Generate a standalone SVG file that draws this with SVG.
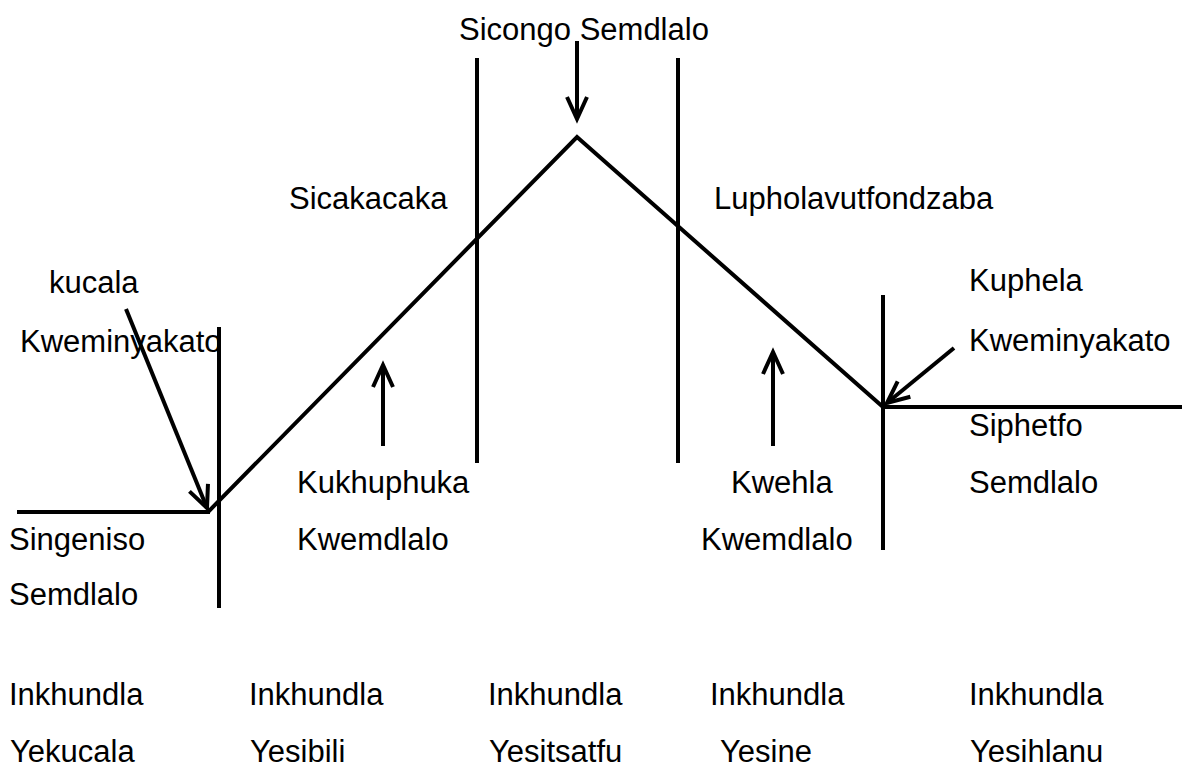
<svg xmlns="http://www.w3.org/2000/svg" width="1182" height="767" viewBox="0 0 1182 767">
  <style>
    text { font-family: "Liberation Sans", Arial, sans-serif; font-size: 31px; fill: #000; }
    .ln { stroke: #000; stroke-width: 4; fill: none; stroke-linecap: butt; stroke-linejoin: miter; }
    .arr { stroke: #000; stroke-width: 4; fill: none; marker-end: url(#head); }
  </style>
  <defs>
    <marker id="head" markerUnits="userSpaceOnUse" markerWidth="40" markerHeight="40" refX="0" refY="0" viewBox="-30 -20 40 40" orient="auto" overflow="visible">
      <path d="M -22 -10 L 0 0 L -22 10" fill="none" stroke="#000" stroke-width="4" stroke-linejoin="miter"/>
    </marker>
  </defs>
  <rect width="1182" height="767" fill="#fff"/>

  <g id="connectors">
    <line class="ln" x1="17" y1="512" x2="210" y2="512"/>
    <line class="ln" x1="219" y1="327" x2="219" y2="608"/>
    <polyline class="ln" points="208,512 577,137 883,407 1182,407"/>
    <line class="ln" x1="477" y1="58" x2="477" y2="463"/>
    <line class="ln" x1="678" y1="58" x2="678" y2="463"/>
    <line class="ln" x1="883" y1="295" x2="883" y2="550"/>
    <line class="arr" x1="126" y1="309" x2="207" y2="508"/>
    <line class="arr" x1="577" y1="41" x2="577" y2="119"/>
    <line class="arr" x1="383" y1="446" x2="383" y2="365"/>
    <line class="arr" x1="773" y1="446" x2="773" y2="352"/>
    <line class="arr" x1="954" y1="348" x2="887" y2="403"/>
  </g>

  <g id="climax"><text x="459" y="40">Sicongo Semdlalo</text></g>
  <g id="rising-label"><text x="289" y="209">Sicakacaka</text></g>
  <g id="falling-label"><text x="714" y="209">Lupholavutfondzaba</text></g>
  <g id="inciting"><text x="49" y="293">kucala</text><text x="20" y="352">Kweminyakato</text></g>
  <g id="resolution"><text x="969" y="291">Kuphela</text><text x="969" y="351">Kweminyakato</text></g>
  <g id="denouement"><text x="969" y="436">Siphetfo</text><text x="969" y="493">Semdlalo</text></g>
  <g id="rising-action"><text x="297" y="493">Kukhuphuka</text><text x="297" y="550">Kwemdlalo</text></g>
  <g id="falling-action"><text x="731" y="493">Kwehla</text><text x="701" y="550">Kwemdlalo</text></g>
  <g id="exposition"><text x="9" y="550">Singeniso</text><text x="9" y="605">Semdlalo</text></g>

  <g id="act1"><text x="9" y="705">Inkhundla</text><text x="10" y="762">Yekucala</text></g>
  <g id="act2"><text x="249" y="705">Inkhundla</text><text x="250" y="762">Yesibili</text></g>
  <g id="act3"><text x="488" y="705">Inkhundla</text><text x="489" y="762">Yesitsatfu</text></g>
  <g id="act4"><text x="710" y="705">Inkhundla</text><text x="720" y="762">Yesine</text></g>
  <g id="act5"><text x="969" y="705">Inkhundla</text><text x="970" y="762">Yesihlanu</text></g>
</svg>
